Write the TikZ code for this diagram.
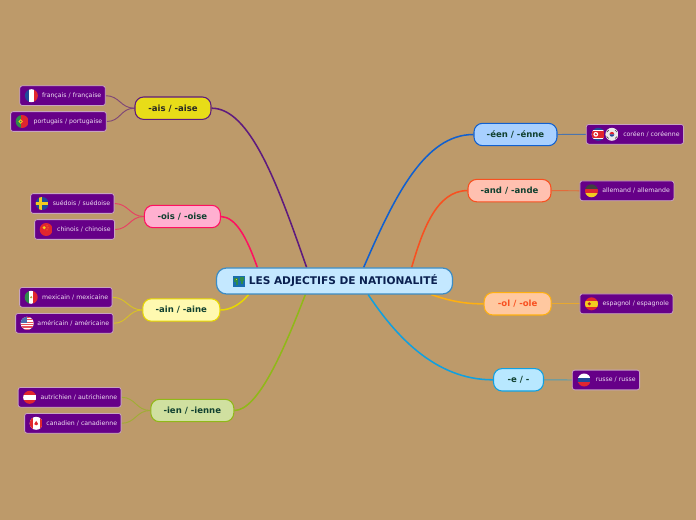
\documentclass[tikz,border=0pt]{standalone}
\usepackage{fontspec}
\setmainfont{DejaVu Sans}
\usepackage{xcolor}
\usetikzlibrary{%
  arrows.meta,
  calc,
  backgrounds}
\definecolor{pagetan}{HTML}{BD9A6A}
\definecolor{leafpurple}{HTML}{660088}
\definecolor{leafrim}{HTML}{C8A4C0}
\definecolor{leafink}{HTML}{EEDFF2}
\definecolor{rootfill}{HTML}{C4E8FF}
\definecolor{rootrim}{HTML}{3C8CC4}
\definecolor{rootink}{HTML}{0A2050}
\definecolor{branchink}{HTML}{10402F}
\definecolor{aisline}{HTML}{5E1A7E}
\definecolor{oisline}{HTML}{FF1060}
\definecolor{ainline}{HTML}{E8D800}
\definecolor{ienline}{HTML}{90B818}
\definecolor{eenline}{HTML}{1060D0}
\definecolor{andline}{HTML}{F85020}
\definecolor{olline}{HTML}{FFB010}
\definecolor{eline}{HTML}{10A0E0}
\definecolor{aisfill}{HTML}{E8DC18}
\definecolor{oisfill}{HTML}{FFB0D0}
\definecolor{ainfill}{HTML}{FFF9B0}
\definecolor{ienfill}{HTML}{D0E0A0}
\definecolor{eenfill}{HTML}{A8D0FF}
\definecolor{andfill}{HTML}{FFC0B0}
\definecolor{olfill}{HTML}{FFC8A0}
\definecolor{efill}{HTML}{B8E8FF}
\definecolor{flagred}{HTML}{E0262E}
\definecolor{flagblue}{HTML}{1F4A98}
\definecolor{flaggreen}{HTML}{2E8B4A}
\definecolor{flaggold}{HTML}{F2CC20}
\tikzset{
  %% Central title
  rootbox/.style={
    rectangle, rounded corners=7.5pt,
    draw=rootrim, fill=rootfill, line width=0.9pt,
    text width=155pt, align=right, text=rootink,
    inner xsep=11pt, minimum height=19.5pt,
    font=\fontsize{7.95pt}{9pt}\selectfont\bfseries},
  %% Ending boxes
  branchbox/.style={
    rectangle, rounded corners=6.5pt,
    line width=0.8pt, text=branchink,
    inner sep=0pt, minimum width=#1*0.75pt, minimum height=16.8pt,
    font=\fontsize{6.4pt}{7pt}\selectfont\bfseries},
  %% Word pair boxes
  leafbox/.style={
    rectangle, rounded corners=1.8pt,
    draw=leafrim, fill=leafpurple, line width=0.6pt,
    text=leafink, align=right,
    inner xsep=3pt, inner ysep=0pt, text width=#1*0.75pt-6pt,
    minimum height=14.8pt, font=\fontsize{4.65pt}{5pt}\selectfont},
  %% Connectors
  rootedge/.style={line width=1.15pt, #1},
  leafedge/.style={line width=0.7pt, #1!65!pagetan},
  %% Flags
  flagfr/.pic={\clip (0,0) circle (6.5);
    \fill[flagblue] (-7,-7) rectangle (-2.2,7);
    \fill[white] (-2.2,-7) rectangle (2.2,7);
    \fill[flagred] (2.2,-7) rectangle (7,7);},
  flagpt/.pic={\clip (0,0) circle (6.5);
    \fill[flaggreen] (-7,-7) rectangle (-1.5,7);
    \fill[flagred] (-1.5,-7) rectangle (7,7);
    \draw[flaggold, line width=0.6pt] (-1.5,0) circle (1.7);},
  flagse/.pic={\clip (0,0) circle (6.5);
    \fill[flagblue] (-7,-7) rectangle (7,7);
    \fill[flaggold] (-3,-7) rectangle (-0.5,7);
    \fill[flaggold] (-7,-1.3) rectangle (7,1.3);},
  flagcn/.pic={\clip (0,0) circle (6.5);
    \fill[flagred] (-7,-7) rectangle (7,7);
    \fill[flaggold] (-2,-1.8) circle (1.7);
    \fill[flaggold] (0.8,-3.6) circle (0.5) (1.8,-1.6) circle (0.5) (0.8,0.4) circle (0.5);},
  flagmx/.pic={\clip (0,0) circle (6.5);
    \fill[flaggreen] (-7,-7) rectangle (-2.2,7);
    \fill[white] (-2.2,-7) rectangle (2.2,7);
    \fill[flagred] (2.2,-7) rectangle (7,7);
    \fill[olive!70] (0,0) circle (1.2);},
  flagus/.pic={\clip (0,0) circle (6.5);
    \fill[white] (-7,-7) rectangle (7,7);
    \foreach \ypos in {-6,-3.6,-1.2,1.2,3.6,6}
      \fill[flagred!80!white] (-7,\ypos-0.6) rectangle (7,\ypos+0.6);
    \fill[flagblue!80!white] (-7,-7) rectangle (0,-0.6);},
  flagat/.pic={\clip (0,0) circle (6.5);
    \fill[flagred] (-7,-7) rectangle (7,7);
    \fill[white] (-7,-2.2) rectangle (7,2.2);},
  flagca/.pic={\clip (0,0) circle (6.5);
    \fill[white] (-7,-7) rectangle (7,7);
    \fill[flagred] (-7,-7) rectangle (-3.4,7);
    \fill[flagred] (3.4,-7) rectangle (7,7);
    \fill[flagred] (0,-2.4) -- (2,0.8) -- (0,2) -- (-2,0.8) -- cycle;},
  flagkp/.pic={\clip (0,0) circle (6.5);
    \fill[flagblue] (-7,-7) rectangle (7,7);
    \fill[white] (-7,-4.3) rectangle (7,4.3);
    \fill[flagred] (-7,-3.6) rectangle (7,3.6);
    \fill[white] (-2.4,0) circle (2.4);
    \fill[flagred] (-2.4,0) circle (1.2);},
  flagkr/.pic={\clip (0,0) circle (6.5);
    \fill[white!92!black] (-7,-7) rectangle (7,7);
    \fill[flagred] (-2.4,0) arc (180:360:2.4) -- cycle;
    \fill[flagblue] (-2.4,0) arc (180:0:2.4) -- cycle;
    \draw[black!70, line width=0.5pt] (-5.2,-2.2) -- (-3.2,-4.2) (3.2,-4.2) -- (5.2,-2.2)
      (-5.2,2.2) -- (-3.2,4.2) (3.2,4.2) -- (5.2,2.2);},
  flagde/.pic={\clip (0,0) circle (6.5);
    \fill[black!75] (-7,-7) rectangle (7,-2.2);
    \fill[flagred] (-7,-2.2) rectangle (7,2.2);
    \fill[flaggold] (-7,2.2) rectangle (7,7);},
  flages/.pic={\clip (0,0) circle (6.5);
    \fill[flagred] (-7,-7) rectangle (7,7);
    \fill[flaggold] (-7,-3.2) rectangle (7,3.2);
    \fill[flagred!80!black] (-2.2,0) circle (1.7);},
  flagru/.pic={\clip (0,0) circle (6.5);
    \fill[white] (-7,-7) rectangle (7,-2.2);
    \fill[flagblue] (-7,-2.2) rectangle (7,2.2);
    \fill[flagred] (-7,2.2) rectangle (7,7);},
  globeicon/.pic={
    \fill[flagblue!80!cyan] (-6,-5.5) rectangle (6,5.5);
    \fill[flaggreen] (-4.6,-3.6) rectangle (-0.8,0.4);
    \fill[flaggreen] (-2.6,0.4) rectangle (-1,4);
    \fill[flaggreen] (1,-4) rectangle (4.8,-0.6);
    \fill[flaggreen] (2,-0.6) rectangle (3.6,2.6);
    \fill[flaggold] (-3.4,-2.6) rectangle (-2.2,-1.2);},
}
\begin{document}
\begin{tikzpicture}[x=0.75pt, y=-0.75pt]
  \useasboundingbox (0,0) rectangle (696,520);

  \node[rootbox] (root) at (334.5,281)
        {LES ADJECTIFS DE NATIONALITÉ};
  \pic at (239,281.2) {globeicon};

  %% Endings, left
  \node[branchbox=76, draw=aisline, fill=aisfill, text=black!85] (ais) at (173,108.2) {-ais / -aise};
  \node[branchbox=76, draw=oisline, fill=oisfill] (ois) at (182.4,216.5) {-ois / -oise};
  \node[branchbox=77, draw=ainline, fill=ainfill] (ain) at (181.3,310) {-ain / -aine};
  \node[branchbox=83, draw=ienline, fill=ienfill] (ien) at (192.3,410.5) {-ien / -ienne};
  %% Endings, right
  \node[branchbox=83, draw=eenline, fill=eenfill] (een) at (515.5,134.5) {-éen / -énne};
  \node[branchbox=83, draw=andline, fill=andfill] (and) at (509.5,190.6) {-and / -ande};
  \node[branchbox=67, draw=olline, fill=olfill, text=andline] (ol) at (517.7,303.8) {-ol / -ole};
  \node[branchbox=50, draw=eline, fill=efill] (e) at (518.5,379.8) {-e / -};

  %% Word pairs
  \node[leafbox=85.5, anchor=east] (francais) at (105.7,95.7) {français / française};
  \node[leafbox=95.7, anchor=east] (portugais) at (106.7,121.5) {portugais / portugaise};
  \node[leafbox=83.5, anchor=east] (suedois) at (114.5,203.5) {suédois / suédoise};
  \node[leafbox=80, anchor=east] (chinois) at (115,229.5) {chinois / chinoise};
  \node[leafbox=92.5, anchor=east] (mexicain) at (112.5,297.3) {mexicain / mexicaine};
  \node[leafbox=97.5, anchor=east] (americain) at (113.5,323.3) {américain / américaine};
  \node[leafbox=103, anchor=east] (autrichien) at (121.5,397.3) {autrichien / autrichienne};
  \node[leafbox=96.5, anchor=east] (canadien) at (121.5,423.3) {canadien / canadienne};
  \node[leafbox=97.3, anchor=east] (coreen) at (684,134.3) {coréen / coréenne};
  \node[leafbox=94, anchor=east] (allemand) at (674.3,190.8) {allemand / allemande};
  \node[leafbox=93, anchor=east] (espagnol) at (673.3,303.8) {espagnol / espagnole};
  \node[leafbox=67.3, anchor=east] (russe) at (640,380) {russe / russe};

  %% Flags
  \pic at ($(francais.west)+(12,0)$) {flagfr};
  \pic at ($(portugais.west)+(12,0)$) {flagpt};
  \pic at ($(suedois.west)+(12,0)$) {flagse};
  \pic at ($(chinois.west)+(12,0)$) {flagcn};
  \pic at ($(mexicain.west)+(12,0)$) {flagmx};
  \pic at ($(americain.west)+(12,0)$) {flagus};
  \pic at ($(autrichien.west)+(12,0)$) {flagat};
  \pic at ($(canadien.west)+(12,0)$) {flagca};
  \pic at ($(coreen.west)+(12.3,0)$) {flagkp};
  \pic at ($(coreen.west)+(26,0)$) {flagkr};
  \pic at ($(allemand.west)+(12,0)$) {flagde};
  \pic at ($(espagnol.west)+(12,0)$) {flages};
  \pic at ($(russe.west)+(12.3,0)$) {flagru};

  \begin{scope}[on background layer]
    \fill[pagetan] (0,0) rectangle (696,520);

    %% Root to endings
    \draw[rootedge=aisline] (root.154) .. controls (278,185) and (250,108) .. (ais.east);
    \draw[rootedge=oisline] (root.170) .. controls (247,238) and (236,217) .. (ois.east);
    \draw[rootedge=ainline] (root.189) .. controls (240,305) and (230,310) .. (ain.east);
    \draw[rootedge=ienline] (root.205) .. controls (284,350) and (258,410.5) .. (ien.east);
    \draw[rootedge=eenline] (root.25) .. controls (395,195) and (425,134.5) .. (een.west);
    \draw[rootedge=andline] (root.10) .. controls (422,232) and (436,190.5) .. (and.west);
    \draw[rootedge=olline] (root.-8) .. controls (450,301) and (465,304) .. (ol.west);
    \draw[rootedge=eline] (root.-22) .. controls (395,335) and (435,380) .. (e.west);

    %% Endings to word pairs
    \draw[leafedge=aisline] (ais.west) .. controls +(-14,0) and +(14,0) .. (francais.east);
    \draw[leafedge=aisline] (ais.west) .. controls +(-14,0) and +(14,0) .. (portugais.east);
    \draw[leafedge=oisline] (ois.west) .. controls +(-14,0) and +(14,0) .. (suedois.east);
    \draw[leafedge=oisline] (ois.west) .. controls +(-14,0) and +(14,0) .. (chinois.east);
    \draw[leafedge=ainline] (ain.west) .. controls +(-14,0) and +(14,0) .. (mexicain.east);
    \draw[leafedge=ainline] (ain.west) .. controls +(-14,0) and +(14,0) .. (americain.east);
    \draw[leafedge=ienline] (ien.west) .. controls +(-14,0) and +(14,0) .. (autrichien.east);
    \draw[leafedge=ienline] (ien.west) .. controls +(-14,0) and +(14,0) .. (canadien.east);
    \draw[leafedge=eenline] (een.east) -- (coreen.west);
    \draw[leafedge=andline] (and.east) -- (allemand.west);
    \draw[leafedge=olline] (ol.east) -- (espagnol.west);
    \draw[leafedge=eline] (e.east) -- (russe.west);
  \end{scope}
\end{tikzpicture}
\end{document}
